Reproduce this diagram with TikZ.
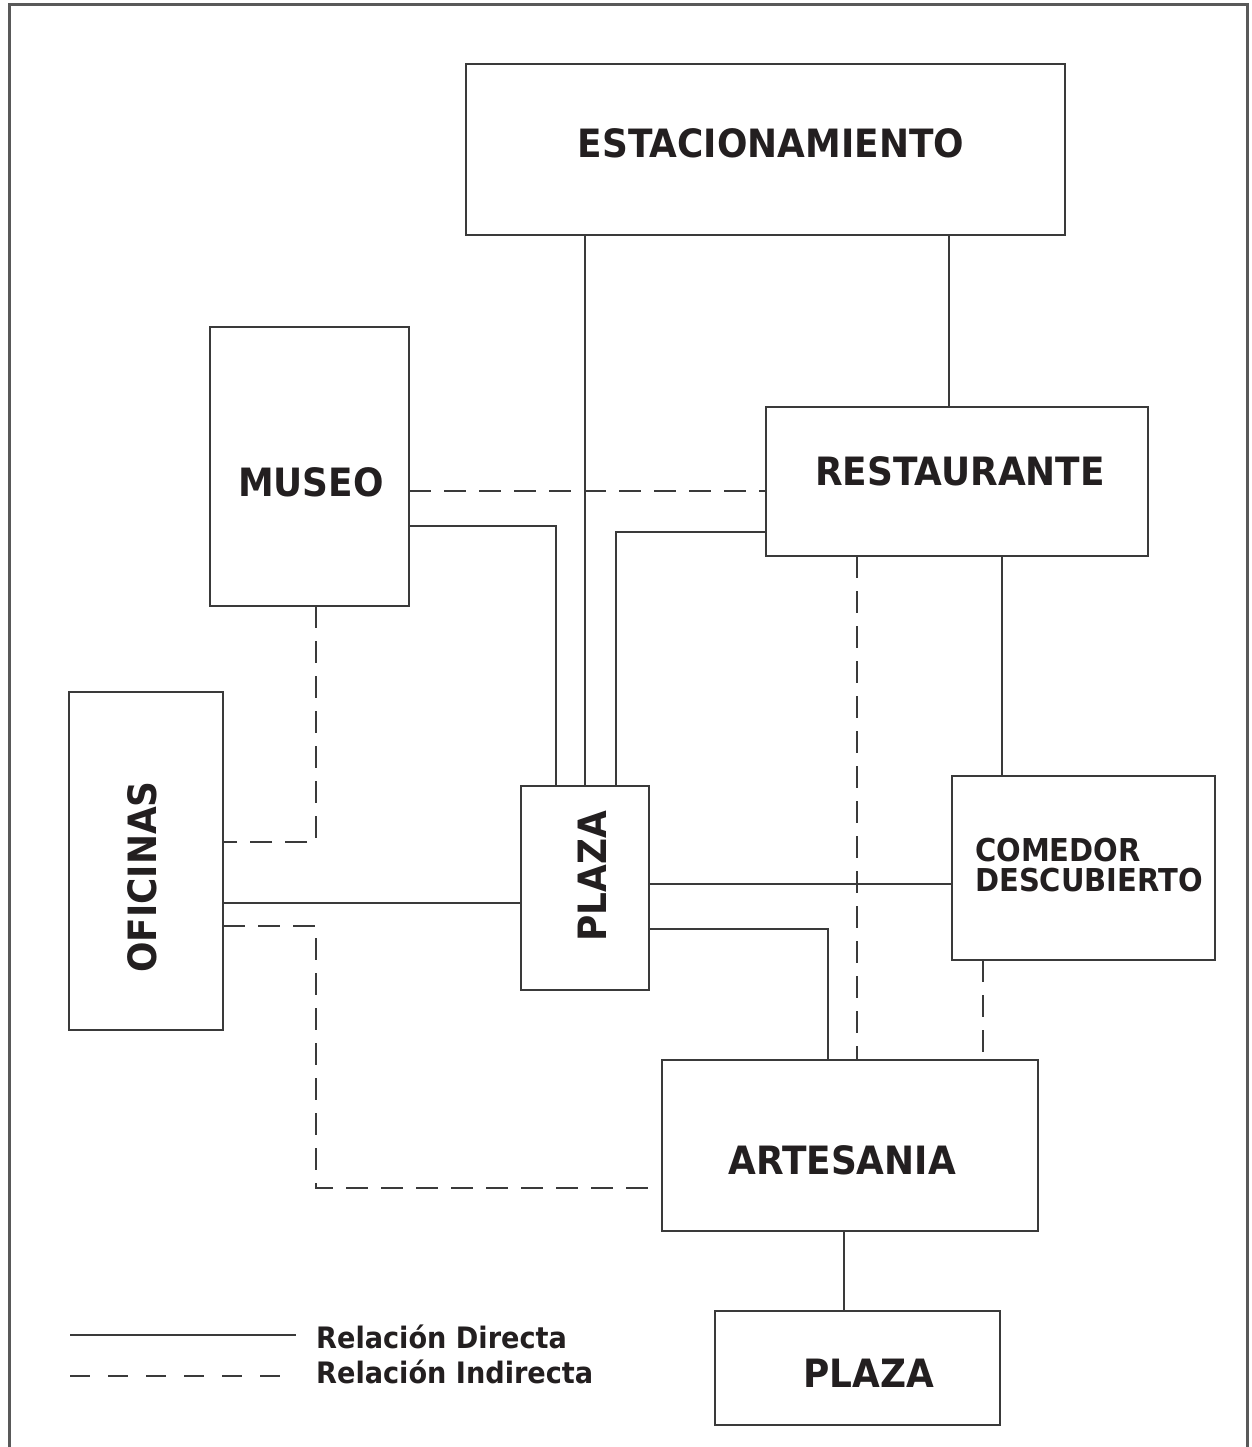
\documentclass[tikz,border=0pt]{standalone}
\usepackage{fontspec}
\newfontfamily\df{DejaVu Sans}[FakeStretch=0.92]
\definecolor{lc}{HTML}{3A3A3A}
\definecolor{tc}{HTML}{231F20}
\begin{document}
\begin{tikzpicture}[x=1pt,y=-1pt,
  box/.style={draw=lc,line width=1.7pt,inner sep=0pt,outer sep=0pt,minimum width=#1},
  bigtxt/.style={text=tc,font=\df\bfseries\fontsize{39}{44}\selectfont,inner sep=0pt},
  midtxt/.style={text=tc,font=\df\bfseries\fontsize{31.5}{34}\selectfont,inner sep=0pt,align=left},
  legtxt/.style={text=tc,font=\df\bfseries\fontsize{29.5}{32}\selectfont,inner sep=0pt},
  direct/.style={draw=lc,line width=1.7pt},
  indirect/.style={draw=lc,line width=1.7pt,dash pattern=on 22pt off 13pt}]
\useasboundingbox (0,0) rectangle (1251,1447);
\fill[white] (0,0) rectangle (1251,1447);
% frame (bottom edge cut off)
\draw[draw=black!65,line width=3pt] (9,1470) -- (9,5) -- (1247,5) -- (1247,1470);
% boxes
\node[box=599pt,minimum height=171pt] (est) at (765.5,149.5) {};
\node[box=199pt,minimum height=279pt] (mus) at (309.5,466.5) {};
\node[box=382pt,minimum height=149pt] (res) at (957,481.5) {};
\node[box=154pt,minimum height=338pt] (ofi) at (146,861) {};
\node[box=128pt,minimum height=204pt] (plz) at (585,888) {};
\node[box=263pt,minimum height=184pt] (com) at (1083.5,868) {};
\node[box=376pt,minimum height=171pt] (art) at (850,1145.5) {};
\node[box=285pt,minimum height=114pt] (plb) at (857.5,1368) {};
% texts
\node[bigtxt] (test) at (771,143) {ESTACIONAMIENTO};
\node[bigtxt] (tmus) at (311,482) {MUSEO};
\node[bigtxt] (tres) at (960,471) {RESTAURANTE};
\node[bigtxt,rotate=90] (tofi) at (142,877) {OFICINAS};
\node[bigtxt,rotate=90] (tplz) at (592,876) {PLAZA};
\node[midtxt,anchor=west] (tcom) at (975,865) {COMEDOR\\[-4pt]DESCUBIERTO};
\node[bigtxt] (tart) at (842,1160) {ARTESANIA};
\node[bigtxt] (tplb) at (869,1373) {PLAZA};
% direct relations
\draw[direct] (est.south -| plz.north) -- (plz.north);
\draw[direct] (est.south -| 949,0) -- (res.north -| 949,0);
\draw[direct] (mus.east |- 0,526) -| (plz.north -| 556,0);
\draw[direct] (res.west |- 0,532) -| (plz.north -| 616,0);
\draw[direct] (res.south -| 1002,0) -- (com.north -| 1002,0);
\draw[direct] (ofi.east |- 0,903) -- (plz.west |- 0,903);
\draw[direct] (plz.east |- 0,884) -- (com.west |- 0,884);
\draw[direct] (plz.east |- 0,929) -| (art.north -| 828,0);
\draw[direct] (art.south -| 844,0) -- (plb.north -| 844,0);
% indirect relations
\draw[indirect] (mus.east |- 0,491) -- (res.west |- 0,491);
\draw[indirect] (mus.south -| 316,0) |- (ofi.east |- 0,842);
\coordinate (c1) at (316,1188);
\draw[indirect] (ofi.east |- 0,926) -| (c1) -- (art.west |- c1);
\draw[indirect] (res.south -| 857,0) -- (art.north -| 857,0);
\draw[indirect] (com.south -| 983,0) -- (art.north -| 983,0);
% legend
\coordinate (l1a) at (70,1335);
\coordinate (l1b) at (296,1335);
\coordinate (l2a) at (70,1376);
\coordinate (l2b) at (296,1376);
\draw[direct] (l1a) -- (l1b);
\draw[indirect,dash pattern=on 20pt off 18pt] (l2a) -- (l2b);
\node[legtxt,anchor=base west] (ld) at (316,1348) {Relación Directa};
\node[legtxt,anchor=base west] (li) at (316,1383) {Relación Indirecta};
\end{tikzpicture}
\end{document}
